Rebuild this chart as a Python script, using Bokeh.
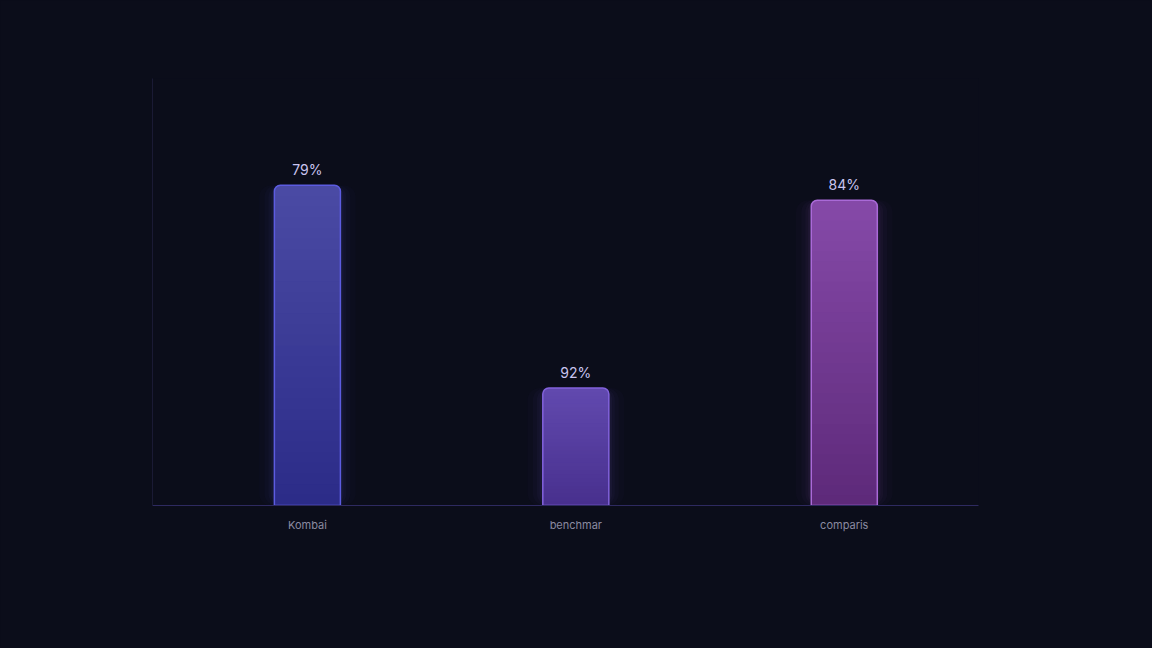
from bokeh.plotting import figure
from bokeh.models import Range1d, FixedTicker, ColumnDataSource
from bokeh.core.properties import value
from bokeh.embed import file_html
from bokeh.resources import INLINE

# ---- data ----
categories = ["Kombai", "benchmar", "comparis"]
bar_heights = [75.0, 27.5, 71.5]
value_labels = ["79%", "92%", "84%"]
top_colors = ["#4a4aa4", "#6149ae", "#8549a8"]
bottom_colors = ["#2c2c88", "#48308e", "#5e2a7a"]
border_colors = ["#5c5ce0", "#8262dc", "#aa6ad8"]

BG = "#0b0d1a"
positions = list(range(len(categories)))
BAR_W = 0.246

W, H = 1150, 646
FL, FT, FR, FB = 152, 78, 978, 505  # frame edges in page px (approx.)

p = figure(width=W, height=H, output_backend="svg", toolbar_location=None,
           x_range=Range1d(-0.577, 2.5), y_range=Range1d(0, 100),
           min_border_left=FL, min_border_right=W - FR, min_border_top=FT,
           min_border_bottom=H - FB, outline_line_color=None)
p.background_fill_color = BG
p.border_fill_color = BG
p.grid.grid_line_color = None
p.xgrid.visible = False
p.ygrid.visible = False


def mix(c1, c2, t):
    a = [int(c1[i:i + 2], 16) for i in (1, 3, 5)]
    b = [int(c2[i:i + 2], 16) for i in (1, 3, 5)]
    return "#%02x%02x%02x" % tuple(round(a[k] + (b[k] - a[k]) * t) for k in range(3))


# soft glow behind bars
for w, a in [(0.36, 0.025), (0.32, 0.03), (0.29, 0.04), (0.27, 0.05)]:
    p.vbar(x=positions, top=bar_heights, width=w, bottom=0,
           fill_color=border_colors, fill_alpha=a, line_color=None,
           border_radius=12)

# gradient body: bars from 0 to a fraction of each value, tallest first
N = 30
for i in range(N - 1, -1, -1):
    t = i / (N - 1)
    tops = [h * (i + 1) / N for h in bar_heights]
    cols = [mix(bottom_colors[j], top_colors[j], t) for j in range(len(categories))]
    p.vbar(x=positions, top=tops, bottom=0, width=BAR_W, fill_color=cols,
           line_color=None, border_radius=(6, 6, 0, 0) if i == N - 1 else 0)

# outline
p.vbar(x=positions, top=bar_heights, bottom=0, width=BAR_W, fill_alpha=0,
       line_color=border_colors, line_width=1.5, border_radius=(6, 6, 0, 0))

src = ColumnDataSource(dict(x=positions, y=bar_heights, t=value_labels))
p.text(x="x", y="y", text="t", source=src, text_align="center", text_baseline="bottom",
       y_offset=-7, text_color="#c9c4f0", text_font=value("Inter"), text_font_size="14px")

# axes
p.xaxis.ticker = FixedTicker(ticks=positions)
p.xaxis.major_label_overrides = {i: c for i, c in zip(positions, categories)}
p.xaxis.major_label_text_color = "#8a8aa0"
p.xaxis.major_label_text_font = "Inter"
p.xaxis.major_label_text_font_size = "11px"
p.xaxis.major_tick_line_color = None
p.xaxis.minor_tick_line_color = None
p.xaxis.axis_line_color = "#2e2a60"
p.xaxis.axis_line_width = 1
p.xaxis.major_label_standoff = 6

p.yaxis.axis_line_color = "#1a1a34"
p.yaxis.major_label_text_font_size = "0px"
p.yaxis.major_label_text_color = None
p.yaxis.major_tick_line_color = None
p.yaxis.minor_tick_line_color = None
p.yaxis.ticker = FixedTicker(ticks=[])

html = file_html(p, INLINE)
html = html.replace("</head>", "<style>html, body { background: %s !important; }</style></head>" % BG, 1)
open("out.html", "w").write(html)
